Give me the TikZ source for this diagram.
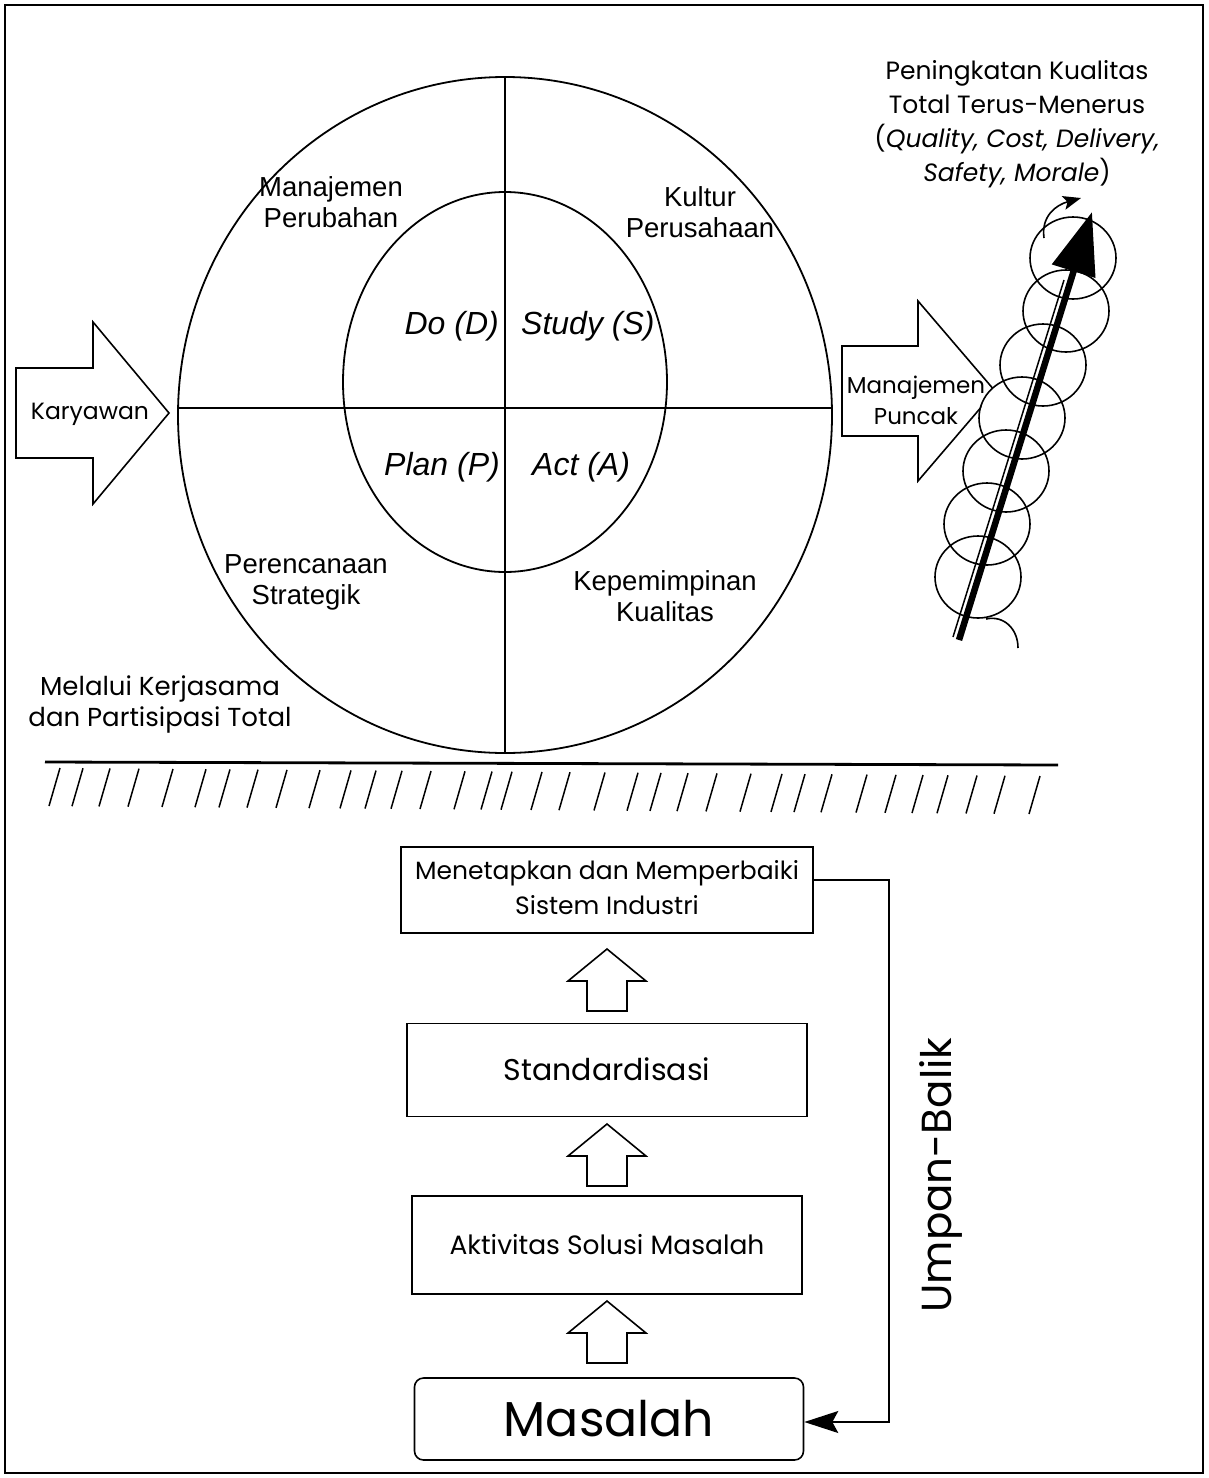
\documentclass[tikz,border=0pt]{standalone}
\usepackage{fontspec}
\setmainfont{Liberation Sans}
\newfontfamily\casualfont{Poppins}
\usetikzlibrary{arrows.meta}

\begin{document}
\begin{tikzpicture}[x=1pt,y=-1pt,line join=miter,
  outline/.style={line width=1.8pt},
  arial/.style={font=\fontsize{27.5}{31}\selectfont, align=center, inner sep=0pt},
  pdsa/.style={font=\fontsize{32}{36}\selectfont\itshape, inner sep=0pt},
  casual/.style={font=\casualfont\fontsize{25}{34}\selectfont, align=center, inner sep=0pt},
  stagebox/.style={draw, line width=1.6pt, inner sep=0pt, align=center},
  blockarrow/.style={draw, line width=1.6pt, fill=white},
  coil/.style={line width=1.6pt},
]
\useasboundingbox (0,0) rectangle (1208,1478);

% frame
\draw[line width=2pt] (5,5) rectangle (1203,1473);

% ---------- upper part: the wheel ----------
\draw[outline] (505,415) ellipse [x radius=327, y radius=338];
\draw[outline] (505,382) ellipse [x radius=162, y radius=190];
\coordinate (wheelW) at (178,408);
\coordinate (wheelE) at (832,408);
\coordinate (wheelN) at (505,77);
\coordinate (wheelS) at (505,753);
\draw[outline] (wheelW) -- (wheelE);
\draw[outline] (wheelN) -- (wheelS);

\node[arial] (mgmtchange) at (331,202) {Manajemen\\Perubahan};
\node[arial] (culture) at (700,212) {Kultur\\Perusahaan};
\node[arial] (strategic) at (306,582) {Perencanaan\\Strategik};
\node[arial] (leadership) at (665,596) {Kepemimpinan\\Kualitas};

\node[pdsa, anchor=east] (do) at (499,326) {Do (D)};
\node[pdsa, anchor=west] (study) at (521,326) {Study (S)};
\node[pdsa, anchor=east] (plan) at (500,467) {Plan (P)};
\node[pdsa, anchor=west] (act) at (532,467) {Act (A)};

% employees arrow (left)
\draw[blockarrow] (16,368) -- (93,368) -- (93,322) -- (169,413) -- (93,504) -- (93,458) -- (16,458) -- cycle;
\node[casual, font=\casualfont\fontsize{23.5}{31}\selectfont] (employees) at (90,414) {Karyawan};

% top management arrow (right)
\draw[blockarrow] (842,346) -- (918,346) -- (918,301) -- (995,391) -- (918,481) -- (918,436) -- (842,436) -- cycle;
\node[casual, font=\casualfont\fontsize{23}{31}\selectfont] (topmgmt) at (916,400) {Manajemen\\Puncak};

\node[casual, font=\casualfont\fontsize{26}{31}\selectfont] (cooperation) at (160,704) {Melalui Kerjasama\\dan Partisipasi Total};

\node[casual] (goal) at (1017,124) {Peningkatan Kualitas\\Total Terus-Menerus\\(\textit{Quality, Cost, Delivery,}\\\textit{Safety, Morale})};

% ---------- the rising coil ----------
\fill[white] (1022,418) circle [radius=42];
\foreach \cx/\cy in {1073/258, 1066/311, 1043/365, 1022/418, 1006/471, 987/524, 978/577}
  \draw[coil] (\cx,\cy) ellipse [x radius=43, y radius=41];
\draw[coil] (986,619) .. controls (1004,615) and (1018,629) .. (1018,648);
\draw[coil, -{Stealth[length=18pt,width=14pt,inset=4pt]}] (1044,238) .. controls (1041,216) and (1056,205) .. (1081,198);

\coordinate (riseStart) at (959,640);
\coordinate (riseEnd) at (1092,212);
\draw[line width=1.5pt] (953,637) -- (1064,280);
\draw[line width=6.5pt, -{Triangle[length=62pt,width=44pt]}] (riseStart) -- (riseEnd);

% ---------- ground line ----------
\draw[line width=2.8pt] (45,762) -- (1058,765);
\foreach \hx in {60,83,110,139,173,206,230,258,287,320,351,376,402,431,465,492,512,542,570,605,638,661,688,717,751,782,805,832,867,896,923,948,977,1005,1040}
  \draw[line width=1.5pt] ({\hx-11},{806+8*(\hx-60)/980}) -- (\hx,{768+8*(\hx-60)/980});

% ---------- lower part: improvement steps ----------
\node[stagebox, minimum width=412pt, minimum height=86pt, casual, font=\casualfont\fontsize{25}{35}\selectfont] (system) at (607,890)
  {\raisebox{5pt}{\begin{tabular}{@{}c@{}}Menetapkan dan Memperbaiki\\Sistem Industri\end{tabular}}};
\node[stagebox, minimum width=400pt, minimum height=93pt, casual, font=\casualfont\fontsize{30}{34}\selectfont] (standard) at (607,1070)
  {\raisebox{2pt}{Standardisasi}};
\node[stagebox, minimum width=390pt, minimum height=98pt, casual, font=\casualfont\fontsize{26.5}{34}\selectfont] (solving) at (607,1245)
  {\raisebox{-5pt}{Aktivitas Solusi Masalah}};
\node[stagebox, minimum width=389pt, minimum height=82pt, rounded corners=9pt, casual, font=\casualfont\fontsize{49}{56}\selectfont] (problem) at (609,1419)
  {Masalah};

\foreach \t in {949,1124,1301}
  \draw[blockarrow] (607,\t) -- (646,\t+32) -- (627,\t+32) -- (627,\t+62) -- (587,\t+62) -- (587,\t+32) -- (568,\t+32) -- cycle;

% feedback loop
\coordinate (loopTop) at (889,880);
\coordinate (loopBottom) at (889,1422);
\draw[line width=1.6pt, -{Stealth[length=34pt,width=22pt,inset=6pt]}]
  (system.east |- loopTop) -- (loopTop) -- (loopBottom) -- (problem.east |- loopBottom);
\node[casual, font=\casualfont\fontsize{42}{48}\selectfont, rotate=90] (feedback) at (941,1175) {Umpan-Balik};

\end{tikzpicture}
\end{document}
